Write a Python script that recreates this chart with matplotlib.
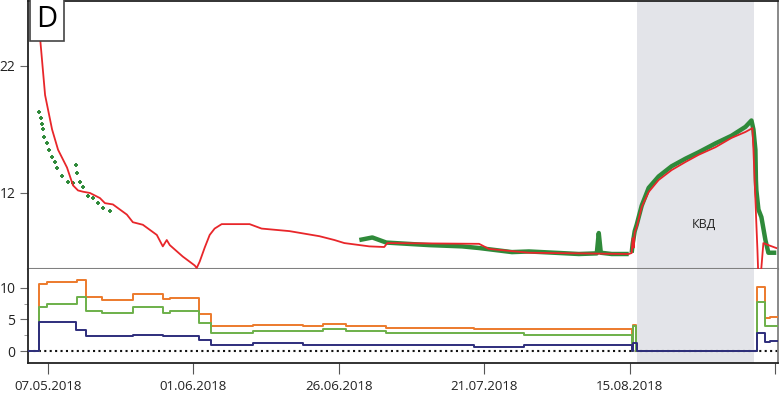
import numpy as np
import pandas as pd
import matplotlib
matplotlib.use('Agg')
import matplotlib.pyplot as plt
import matplotlib.dates as mdates
from matplotlib.ticker import FixedLocator

plt.rcParams['font.family'] = ['Open Sans', 'DejaVu Sans']

base = pd.Timestamp('2018-05-07')
def to_date(days):
    return base + pd.to_timedelta(np.asarray(days, dtype=float), unit='D')

# model (red line): days since 07.05.2018, value
model_days = [-2.06, -1.37, -0.51, 0.69, 1.72, 3.26, 4.29, 5.15, 6.0, 7.2, 8.92, 9.78, 11.15,
              13.55, 14.58, 16.3, 18.7, 19.73, 20.41, 20.93, 23.16, 25.21, 25.56, 26.07, 26.93,
              27.79, 28.64, 29.85, 34.65, 36.71, 41.5, 46.66, 49.23, 50.94, 55.23, 57.8, 58.32,
              74.1, 75.8, 82.68, 99.83, 100.34, 100.51, 100.69, 100.86, 101.2, 102.06, 103.26,
              104.97, 107.2, 109.6, 111.84, 114.75, 117.5, 119.9, 121.1, 121.27, 121.61, 121.96,
              122.13, 122.47, 122.98, 123.84, 125.2]
model_vals = [28.0, 24.2, 19.7, 17.0, 15.4, 14.0, 12.6, 12.2, 12.1, 12.0, 11.6, 11.2, 11.1,
              10.3, 9.7, 9.5, 8.7, 7.8, 8.3, 7.9, 7.0, 6.3, 6.1, 6.6, 7.7,
              8.7, 9.2, 9.55, 9.55, 9.2, 9.0, 8.6, 8.3, 8.06, 7.8, 7.75, 8.06,
              8.0, 7.6, 7.3, 7.2, 7.28, 8.45, 7.7, 8.9, 9.32, 10.9, 12.08,
              13.02, 13.8, 14.44, 15.0, 15.6, 16.33, 16.8, 17.1, 15.4, 11.4, 7.5,
              5.2, 5.2, 8.06, 7.9, 7.67]

# measured (green): first period, separate points
meas1_days = [-1.54, -1.2, -1.03, -0.86, -0.69, -0.17, 0.17, 0.69, 1.2, 1.54, 2.4, 3.43,
              4.29, 4.8, 4.97, 5.49, 6.0, 6.86, 7.72, 8.58, 9.44, 10.63]
meas1_vals = [18.4, 17.9, 17.4, 17.0, 16.4, 15.9, 15.4, 14.8, 14.4, 14.0, 13.3, 12.9,
              12.8, 14.2, 13.6, 12.9, 12.5, 11.8, 11.6, 11.2, 10.8, 10.6]

# measured (green): second period
meas2_days = [53.52, 55.75, 58.15, 65.52, 71.18, 74.1, 79.76, 82.68, 88.34, 91.25, 94.34,
              94.68, 95.03, 96.9, 99.83]
meas2_vals = [8.3, 8.5, 8.1, 7.9, 7.8, 7.67, 7.35, 7.4, 7.27, 7.2, 7.25,
              8.85, 7.3, 7.2, 7.2]

# measured (green): build-up and after
meas3_days = [100.34, 100.51, 100.86, 101.2, 102.06, 103.26, 104.97, 107.2, 109.6, 111.84,
              114.75, 117.5, 119.9, 120.93, 121.27, 121.61, 121.7, 121.78, 122.13, 122.64,
              123.33, 123.84, 125.2]
meas3_vals = [7.3, 8.0, 9.0, 9.5, 11.0, 12.4, 13.3, 14.1, 14.7, 15.2,
              15.9, 16.5, 17.2, 17.7, 17.0, 15.4, 13.0, 12.2, 10.7, 10.1,
              8.3, 7.3, 7.3]

# bottom panel step series
step_days = [-3.44, -1.55, -0.17, 4.8, 5.0, 6.55, 9.3, 14.65, 19.8, 21.0, 25.9, 28.1, 35.2,
             43.8, 47.2, 51.2, 58.1, 73.3, 81.9, 100.34, 100.6, 101.0, 101.2, 121.9, 123.3,
             124.1, 126.0]
orange_vals = [0, 10.6, 11.0, 11.0, 11.2, 8.6, 8.1, 9.0, 8.2, 8.4, 5.8, 4.0, 4.15,
               4.0, 4.3, 4.0, 3.7, 3.5, 3.5, 0, 4.2, 0, 0, 10.2, 5.2,
               5.4, 5.4]
green_vals = [0, 6.9, 7.5, 7.5, 8.6, 6.4, 6.1, 6.9, 6.1, 6.4, 4.5, 2.9, 3.2,
              3.2, 3.5, 3.2, 2.9, 2.9, 2.5, 0, 4.0, 0, 0, 7.8, 3.9,
              4.0, 4.0]
navy_vals = [0, 4.6, 4.6, 3.3, 3.3, 2.4, 2.4, 2.6, 2.4, 2.4, 1.75, 1.0, 1.2,
             0.95, 0.95, 0.95, 0.95, 0.7, 1.0, 0, 1.2, 1.2, 0, 2.9, 1.4,
             1.6, 1.6]

tick_dates = ['2018-05-07', '2018-06-01', '2018-06-26', '2018-07-21', '2018-08-15', '2018-09-09']
tick_labels = ['07.05.2018', '01.06.2018', '26.06.2018', '21.07.2018', '15.08.2018', '']
kvd_start, kvd_end = 101.2, 121.3

x_left, x_right = to_date([-3.44])[0], to_date([125.5])[0]

fig = plt.figure(figsize=(7.81, 3.93), dpi=100)
ax1 = fig.add_axes([0.0359, 0.3155, 0.9603, 0.682])
ax2 = fig.add_axes([0.0359, 0.0763, 0.9603, 0.2392], sharex=ax1)

shade = '#e3e4e9'
for ax in (ax1, ax2):
    ax.axvspan(to_date([kvd_start])[0], to_date([kvd_end])[0], color=shade, lw=0, zorder=0)

# upper panel
green = '#2f8a3a'
ax1.plot(to_date(meas1_days), meas1_vals, ls='none', marker='+', ms=3.2, mew=1.4, color=green, zorder=3)
ax1.plot(to_date(meas2_days), meas2_vals, color=green, lw=3.2, zorder=2, solid_capstyle='butt')
ax1.plot(to_date(meas3_days), meas3_vals, color=green, lw=3.2, zorder=2, solid_capstyle='butt')
ax1.plot(to_date(model_days), model_vals, color='#e8262a', lw=1.3, zorder=4)
ax1.set_ylim(6.02, 27.1)
ax1.set_yticks([12, 22])
ax1.tick_params(axis='y', direction='out', length=6, color='#666666', labelsize=10, labelcolor='#222222', pad=3)
ax1.tick_params(axis='x', bottom=False, labelbottom=False)
ax1.text(to_date([112.7])[0], 9.5, 'КВД', fontsize=9, color='#222222', ha='center', va='center')
ax1.text(0.025, 0.93, 'D', transform=ax1.transAxes, fontsize=21, ha='center', va='center',
         bbox=dict(boxstyle='square,pad=0.22', fc='white', ec='#444444', lw=1.2), zorder=10)
for s in ['left', 'top']:
    ax1.spines[s].set_color('#222222')
    ax1.spines[s].set_linewidth(1.3)
ax1.spines['bottom'].set_color('#808080')
ax1.spines['bottom'].set_linewidth(1.5)
ax1.spines['right'].set_color('#808080')
ax1.spines['right'].set_linewidth(1.3)

# lower panel
ax2.step(to_date(step_days), orange_vals, where='post', color='#ec7a2c', lw=1.4, zorder=3)
ax2.step(to_date(step_days), green_vals, where='post', color='#6cb04a', lw=1.4, zorder=3)
ax2.step(to_date(step_days), navy_vals, where='post', color='#2e2d7c', lw=1.4, zorder=3)
ax2.axhline(0, color='#111111', ls=(0, (1, 1.6)), lw=1.5, zorder=2)
ax2.set_ylim(-1.9, 13.0)
ax2.set_yticks([0, 5, 10])
ax2.yaxis.set_minor_locator(FixedLocator([2.5, 7.5]))
ax2.tick_params(axis='y', which='major', direction='out', length=6, color='#666666', labelsize=10,
                labelcolor='#222222', pad=3)
ax2.tick_params(axis='y', which='minor', direction='out', length=3, color='#888888')
ax2.set_xticks(pd.to_datetime(tick_dates))
ax2.set_xticklabels(tick_labels)
ax2.tick_params(axis='x', direction='out', length=8, color='#555555', labelsize=9.5,
                labelcolor='#222222', pad=4)
ax2.set_xlim(x_left, x_right)
ax2.spines['top'].set_visible(False)
for s in ['left', 'bottom']:
    ax2.spines[s].set_color('#222222')
    ax2.spines[s].set_linewidth(1.3)
ax2.spines['right'].set_color('#808080')
ax2.spines['right'].set_linewidth(1.3)

fig.savefig('out.png', dpi=100)
